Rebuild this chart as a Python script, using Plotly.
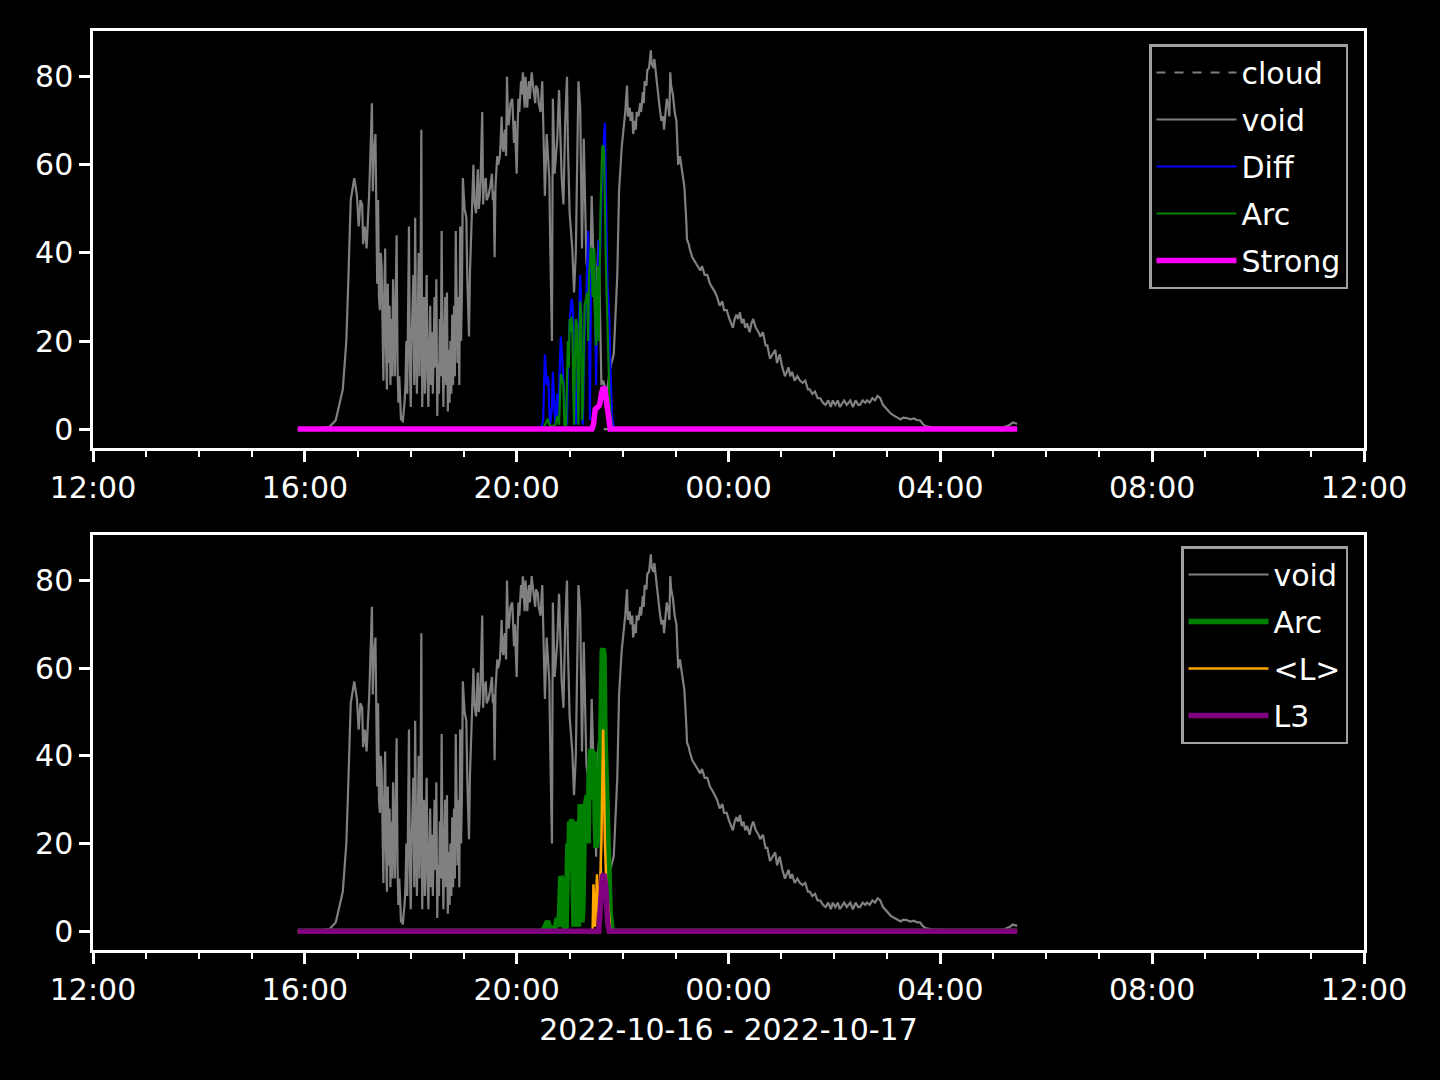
import plotly.graph_objects as go

# ---------------- data (times HH:MM, 2022-10-16 12:00 -> 2022-10-17 12:00) ----------------
void_pts = [
    ("15:52", 0), ("16:10", 0), ("16:28", 0.5), ("16:35", 2), ("16:43", 9), ("16:47", 20),
    ("16:49", 32), ("16:52", 52), ("16:56", 57), ("16:59", 53), ("17:01", 46), ("17:03", 52),
    ("17:05", 51), ("17:06", 42), ("17:08", 46), ("17:10", 41), ("17:13", 54), ("17:16", 74),
    ("17:17", 54), ("17:18", 62), ("17:20", 67), ("17:21", 45), ("17:22", 33), ("17:23", 52),
    ("17:24", 30), ("17:25", 27), ("17:26", 40), ("17:27", 37), ("17:28", 20), ("17:29", 11),
    ("17:30", 30), ("17:31", 41), ("17:32", 18), ("17:33", 9), ("17:34", 33), ("17:35", 15),
    ("17:36", 28), ("17:37", 10), ("17:38", 25), ("17:39", 12), ("17:40", 34), ("17:41", 20),
    ("17:42", 12), ("17:43", 30), ("17:44", 44), ("17:45", 15), ("17:46", 6), ("17:47", 12),
    ("17:48", 4), ("17:49", 2), ("17:50", 3), ("17:51", 1.5), ("17:52", 4), ("17:53", 6),
    ("17:54", 10), ("17:55", 20), ("17:56", 8), ("17:57", 30), ("17:58", 46), ("17:59", 15),
    ("18:00", 5), ("18:01", 20), ("18:02", 30), ("18:03", 35), ("18:04", 10), ("18:05", 48),
    ("18:06", 20), ("18:07", 8), ("18:08", 25), ("18:09", 40), ("18:10", 12), ("18:11", 30),
    ("18:12", 68), ("18:13", 5), ("18:14", 22), ("18:15", 30), ("18:16", 8), ("18:17", 25),
    ("18:18", 35), ("18:19", 12), ("18:20", 5), ("18:21", 18), ("18:22", 28), ("18:23", 10),
    ("18:24", 22), ("18:25", 8), ("18:26", 20), ("18:27", 30), ("18:28", 14), ("18:29", 34),
    ("18:30", 3), ("18:31", 15), ("18:32", 8), ("18:33", 25), ("18:34", 12), ("18:35", 45),
    ("18:36", 18), ("18:37", 5), ("18:38", 20), ("18:39", 30), ("18:40", 10), ("18:41", 31),
    ("18:42", 4), ("18:43", 18), ("18:44", 6), ("18:45", 20), ("18:46", 8), ("18:47", 26),
    ("18:48", 10), ("18:49", 28), ("18:50", 12), ("18:51", 45), ("18:52", 29), ("18:53", 15),
    ("18:54", 30), ("18:55", 10), ("18:56", 46), ("18:57", 20), ("18:58", 31), ("18:59", 57),
    ("19:01", 50), ("19:03", 48), ("19:04", 35), ("19:06", 21), ("19:07", 35), ("19:09", 46),
    ("19:10", 55), ("19:11", 60), ("19:12", 52), ("19:14", 49), ("19:15", 55), ("19:16", 59),
    ("19:17", 50), ("19:18", 52), ("19:19", 56), ("19:21", 72), ("19:22", 51), ("19:23", 55),
    ("19:25", 57), ("19:26", 52), ("19:28", 53), ("19:30", 55), ("19:32", 58), ("19:33", 52),
    ("19:34", 54), ("19:35", 39), ("19:36", 55), ("19:38", 62), ("19:39", 60), ("19:41", 62),
    ("19:42", 66), ("19:43", 71), ("19:44", 64), ("19:45", 63), ("19:46", 67), ("19:47", 68),
    ("19:48", 62), ("19:49", 80), ("19:50", 72), ("19:51", 69), ("19:53", 74), ("19:55", 75),
    ("19:56", 70), ("19:57", 65), ("19:58", 70), ("20:00", 58), ("20:01", 68), ("20:02", 75),
    ("20:03", 72), ("20:05", 79), ("20:06", 76), ("20:07", 81), ("20:08", 77), ("20:09", 73),
    ("20:10", 80), ("20:11", 76), ("20:12", 73), ("20:13", 77), ("20:14", 79), ("20:15", 75),
    ("20:17", 81), ("20:18", 79), ("20:19", 77), ("20:21", 74), ("20:22", 78), ("20:24", 77),
    ("20:25", 74), ("20:27", 72), ("20:29", 79), ("20:30", 67), ("20:32", 53), ("20:34", 67),
    ("20:37", 57), ("20:38", 42), ("20:40", 20), ("20:41", 75), ("20:43", 58), ("20:46", 66),
    ("20:48", 77), ("20:51", 57), ("20:53", 51), ("20:55", 70), ("20:57", 80), ("20:58", 65),
    ("21:00", 49), ("21:03", 41), ("21:05", 31), ("21:07", 40), ("21:10", 79), ("21:12", 73),
    ("21:14", 41), ("21:16", 66), ("21:19", 38), ("21:21", 35), ("21:23", 31), ("21:25", 53),
    ("21:27", 37), ("21:30", 17), ("21:31", 35), ("21:33", 43), ("21:36", 10), ("21:38", 11),
    ("21:42", 8), ("21:46", 14), ("21:50", 17), ("21:54", 35), ("21:56", 54), ("21:59", 64),
    ("22:03", 72), ("22:05", 78), ("22:06", 71), ("22:08", 73), ("22:09", 70), ("22:11", 72),
    ("22:12", 67), ("22:14", 70), ("22:15", 68), ("22:16", 72), ("22:18", 71), ("22:20", 74),
    ("22:21", 72), ("22:23", 76.5), ("22:24", 74), ("22:25", 79), ("22:27", 78), ("22:28", 81.5),
    ("22:30", 82), ("22:32", 86), ("22:33", 83), ("22:35", 82), ("22:36", 84), ("22:38", 80),
    ("22:40", 76), ("22:42", 73), ("22:44", 70), ("22:46", 71), ("22:47", 68), ("22:49", 72),
    ("22:50", 75), ("22:52", 73), ("22:53", 71), ("22:54", 81), ("22:55", 78), ("22:57", 76),
    ("22:59", 72), ("23:01", 70), ("23:02", 66), ("23:03", 60), ("23:05", 62), ("23:07", 59),
    ("23:09", 57), ("23:10", 55), ("23:12", 48), ("23:13", 43), ("23:15", 42), ("23:16", 41),
    ("23:19", 39), ("23:22", 38), ("23:25", 37), ("23:28", 36), ("23:30", 37), ("23:33", 35),
    ("23:36", 35), ("23:39", 33), ("23:42", 32), ("23:45", 31), ("23:47", 30), ("23:50", 28),
    ("23:53", 29), ("23:55", 27), ("23:58", 27), ("00:01", 25), ("00:05", 23), ("00:07", 25),
    ("00:09", 26), ("00:11", 25), ("00:13", 26.5), ("00:15", 24), ("00:17", 25), ("00:19", 23),
    ("00:21", 24), ("00:24", 22), ("00:26", 24), ("00:28", 25), ("00:31", 23), ("00:34", 22),
    ("00:36", 21), ("00:39", 22), ("00:42", 19), ("00:44", 19), ("00:47", 16), ("00:50", 17),
    ("00:53", 18), ("00:55", 15), ("00:58", 17), ("01:01", 14), ("01:04", 12), ("01:06", 13),
    ("01:08", 14), ("01:10", 12), ("01:12", 13), ("01:15", 11), ("01:18", 12), ("01:21", 11),
    ("01:24", 10.5), ("01:27", 11), ("01:30", 9), ("01:32", 9), ("01:35", 8), ("01:38", 8.5),
    ("01:41", 7), ("01:44", 7), ("01:47", 6), ("01:50", 5.5), ("01:53", 6.5), ("01:56", 5),
    ("01:58", 6.5), ("02:01", 5.5), ("02:04", 6.5), ("02:06", 5), ("02:08", 5.5), ("02:11", 6.5),
    ("02:14", 5.5), ("02:18", 6.5), ("02:21", 5), ("02:24", 6.5), ("02:27", 5.5), ("02:29", 5.5),
    ("02:32", 6.5), ("02:35", 6), ("02:37", 6.5), ("02:40", 6), ("02:43", 7), ("02:46", 6.5),
    ("02:49", 7.5), ("02:52", 7), ("02:55", 5.5), ("03:00", 4.5), ("03:04", 3.5), ("03:08", 3),
    ("03:11", 2.7), ("03:15", 2.2), ("03:18", 2.6), ("03:22", 2.5), ("03:26", 2.2), ("03:30", 2.4),
    ("03:34", 2), ("03:37", 2), ("03:40", 1.2), ("03:43", 0.7), ("03:50", 0.4), ("04:00", 0.3),
    ("05:11", 0.3), ("05:19", 1), ("05:22", 1.5), ("05:27", 1.2),
]

cloud_pts = [("15:52", 0), ("05:27", 0)]

diff_pts = [
    ("15:52", 0), ("20:20", 0), ("20:28", 0.5), ("20:30", 2), ("20:32", 17), ("20:33", 12),
    ("20:34", 10), ("20:35", 12), ("20:36", 11), ("20:37", 4), ("20:38", 1), ("20:40", 5),
    ("20:41", 13), ("20:43", 4), ("20:44", 1), ("20:46", 8), ("20:47", 3), ("20:49", 15),
    ("20:50", 21), ("20:51", 18), ("20:53", 12), ("20:55", 4), ("20:57", 1), ("20:58", 12),
    ("21:00", 24), ("21:01", 27), ("21:02", 29.5), ("21:03", 29), ("21:04", 26), ("21:06", 5),
    ("21:07", 1), ("21:09", 14), ("21:11", 30), ("21:12", 35), ("21:13", 28), ("21:15", 1),
    ("21:17", 22), ("21:19", 30), ("21:21", 45), ("21:22", 28), ("21:23", 2), ("21:24", 30),
    ("21:25", 41), ("21:26", 38), ("21:28", 40), ("21:29", 30), ("21:30", 10), ("21:31", 25),
    ("21:33", 43), ("21:34", 35), ("21:36", 53), ("21:38", 63), ("21:40", 69.5), ("21:41", 55),
    ("21:42", 40), ("21:43", 32), ("21:44", 29.5), ("21:45", 25), ("21:46", 15), ("21:47", 8),
    ("21:48", 3), ("21:50", 0.5), ("21:52", 0), ("05:27", 0),
]

arc_pts = [
    ("15:52", 0), ("20:28", 0), ("20:31", 0.5), ("20:33", 1.5), ("20:35", 2.3), ("20:37", 1),
    ("20:40", 0.5), ("20:44", 1), ("20:46", 3), ("20:48", 1), ("20:50", 12.5), ("20:51", 12),
    ("20:53", 10), ("20:54", 1), ("20:56", 0.5), ("20:58", 20), ("20:59", 14), ("21:00", 25),
    ("21:01", 22), ("21:02", 25.5), ("21:03", 24), ("21:04", 10), ("21:05", 1), ("21:06", 15),
    ("21:07", 25), ("21:08", 24), ("21:09", 12), ("21:10", 1), ("21:11", 20), ("21:12", 29),
    ("21:13", 26), ("21:14", 2), ("21:15", 5), ("21:17", 28), ("21:19", 30), ("21:20", 31),
    ("21:21", 20), ("21:22", 35), ("21:24", 41), ("21:25", 41), ("21:26", 30), ("21:27", 38),
    ("21:28", 41), ("21:29", 25), ("21:30", 19), ("21:31", 30), ("21:32", 37), ("21:33", 20),
    ("21:35", 50), ("21:37", 64), ("21:38", 64.5), ("21:39", 63), ("21:40", 45), ("21:41", 38),
    ("21:42", 30), ("21:43", 20), ("21:44", 16), ("21:45", 8), ("21:46", 4), ("21:48", 0.5),
    ("21:50", 0), ("05:27", 0),
]

strong_pts = [
    ("15:52", 0), ("21:25", 0), ("21:27", 1), ("21:29", 4.5), ("21:32", 5), ("21:34", 5.5),
    ("21:36", 8), ("21:38", 9.5), ("21:40", 9), ("21:42", 6), ("21:44", 2), ("21:46", 0),
    ("05:27", 0),
]

meanL_pts = [
    ("15:52", 0), ("21:26", 0), ("21:27", 10.7), ("21:29", 1), ("21:31", 13), ("21:33", 1),
    ("21:36", 20), ("21:38", 46), ("21:40", 20), ("21:42", 8), ("21:44", 5.5), ("21:46", 0.5),
    ("21:48", 0), ("05:27", 0),
]

l3_pts = [
    ("15:52", 0), ("21:33", 0), ("21:35", 6), ("21:37", 12.5), ("21:39", 13), ("21:41", 10),
    ("21:43", 2), ("21:45", 0), ("05:27", 0),
]

x_title = "2022-10-16 - 2022-10-17"
y_ticks = [0, 20, 40, 60, 80]


def to_xy(pts):
    xs, ys = [], []
    for t, v in pts:
        h = int(t.split(":")[0])
        day = "2022-10-16" if h >= 12 else "2022-10-17"
        xs.append(f"{day} {t}")
        ys.append(v)
    return xs, ys


FONT = "DejaVu Sans"
fig = go.Figure()


def add(pts, name, color, width, xa, ya, legend, dash="solid"):
    xs, ys = to_xy(pts)
    fig.add_trace(go.Scatter(
        x=xs, y=ys, mode="lines", name=name,
        line=dict(color=color, width=width, dash=dash),
        xaxis=xa, yaxis=ya, legend=legend, legendgroup=legend + name,
    ))


# top panel
add(cloud_pts, "cloud", "#808080", 2.2, "x", "y", "legend", dash="dash")
add(void_pts, "void", "#808080", 2.2, "x", "y", "legend")
add(diff_pts, "Diff", "#0000ff", 2.2, "x", "y", "legend")
add(arc_pts, "Arc", "#008000", 2.2, "x", "y", "legend")
add(strong_pts, "Strong", "#ff00ff", 5.5, "x", "y", "legend")
# bottom panel
add(void_pts, "void", "#808080", 2.2, "x2", "y2", "legend2")
add(arc_pts, "Arc", "#008000", 5.5, "x2", "y2", "legend2")
add(meanL_pts, "<L>", "#ffa500", 2.5, "x2", "y2", "legend2")
add(l3_pts, "L3", "#800080", 5.5, "x2", "y2", "legend2")

W, H = 1440, 1080
xdom = [93 / W, 1364 / W]
top_dom = [1 - 448 / H, 1 - 31 / H]
bot_dom = [1 - 950 / H, 1 - 535 / H]

axis_common = dict(
    showline=True, mirror=True, linecolor="white", linewidth=2.5,
    ticks="outside", ticklen=11, tickwidth=2.5, tickcolor="white",
    tickfont=dict(size=30, color="white", family=FONT),
    showgrid=False, zeroline=False, automargin=False,
)
xaxis_common = dict(
    axis_common, type="date",
    range=["2022-10-16 12:00", "2022-10-17 12:00"],
    tick0="2022-10-16 12:00", dtick=4 * 3600000, tickformat="%H:%M",
    minor=dict(dtick=3600000, ticks="outside", ticklen=6, tickwidth=2,
               tickcolor="white", showgrid=False),
    domain=xdom,
)
yaxis_common = dict(axis_common, range=[-4.3, 90.4], tickmode="array", tickvals=y_ticks)

legend_common = dict(
    bgcolor="black", bordercolor="#a0a0a0", borderwidth=2.5,
    font=dict(size=30, color="white", family=FONT),
    xanchor="right", yanchor="top", tracegroupgap=5, itemwidth=80,
)

fig.update_layout(
    width=W, height=H,
    paper_bgcolor="black", plot_bgcolor="black",
    margin=dict(l=0, r=0, t=0, b=0),
    font=dict(family=FONT, color="white", size=30),
    xaxis=dict(xaxis_common, anchor="y"),
    yaxis=dict(yaxis_common, domain=top_dom, anchor="x"),
    xaxis2=dict(xaxis_common, anchor="y2",
                title=dict(text=x_title, font=dict(size=30, color="white", family=FONT), standoff=14)),
    yaxis2=dict(yaxis_common, domain=bot_dom, anchor="x2"),
    legend=dict(legend_common, x=1348 / W, y=1 - 44 / H),
    legend2=dict(legend_common, x=1348 / W, y=1 - 546 / H),
    showlegend=True,
)

fig.write_html(
    "out.html",
    config={"displayModeBar": False},
    post_script="document.body.style.margin='0';document.body.style.background='black';",
)
